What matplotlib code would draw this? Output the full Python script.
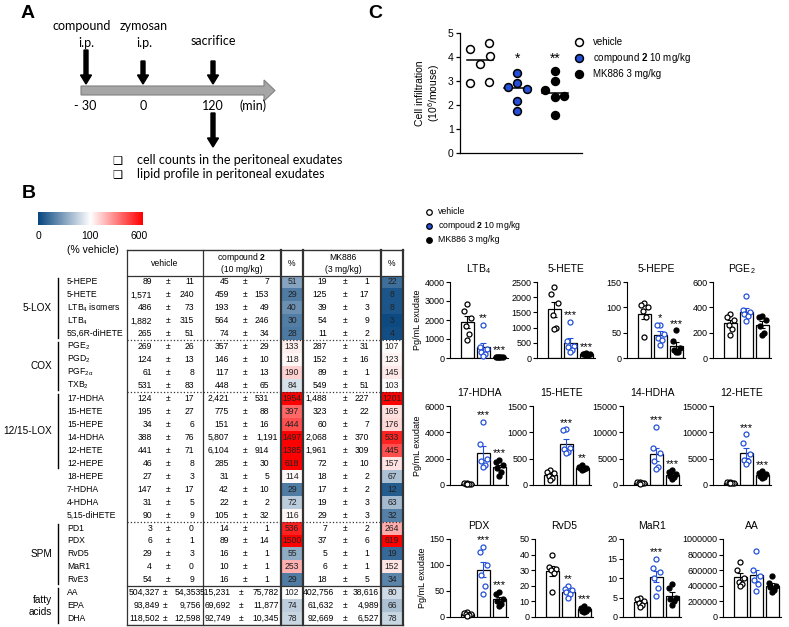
import numpy as np
import matplotlib.pyplot as plt
from matplotlib.patches import FancyArrow, Rectangle
from matplotlib.colors import LinearSegmentedColormap, TwoSlopeNorm
from matplotlib.ticker import FormatStrFormatter

plt.rcParams['font.family'] = ['Liberation Sans', 'DejaVu Sans']
plt.rcParams['mathtext.fontset'] = 'custom'
plt.rcParams['mathtext.rm'] = 'Liberation Sans'
plt.rcParams['mathtext.it'] = 'Liberation Sans:italic'
plt.rcParams['mathtext.bf'] = 'Liberation Sans:bold'
plt.rcParams['mathtext.default'] = 'rm'

W, H = 789, 627

# ---- B: lipid table
lipids = ['5-HEPE', '5-HETE', 'LTB$_4$ isomers', 'LTB$_4$', '5S,6R-diHETE',
          'PGE$_2$', 'PGD$_2$', 'PGF$_{2\\alpha}$', 'TXB$_2$',
          '17-HDHA', '15-HETE', '15-HEPE', '14-HDHA', '12-HETE', '12-HEPE',
          '18-HEPE', '7-HDHA', '4-HDHA', '5,15-diHETE',
          'PD1', 'PDX', 'RvD5', 'MaR1', 'RvE3',
          'AA', 'EPA', 'DHA']
veh_mean = [89, 1571, 486, 1882, 265, 269, 124, 61, 531, 124, 195, 34, 388, 441, 46,
            27, 147, 31, 90, 3, 6, 29, 4, 54, 504327, 93849, 118502]
veh_sem = [11, 240, 73, 315, 51, 26, 13, 8, 83, 17, 27, 6, 76, 71, 8,
           3, 17, 5, 9, 0, 1, 3, 0, 9, 54353, 9756, 12598]
cmp_mean = [45, 459, 193, 564, 74, 357, 146, 117, 448, 2421, 775, 151, 5807, 6104, 285,
            31, 42, 22, 105, 14, 89, 16, 10, 16, 515231, 69692, 92749]
cmp_sem = [7, 153, 49, 246, 34, 29, 10, 13, 65, 531, 88, 16, 1191, 914, 30,
           5, 10, 2, 32, 1, 14, 1, 1, 1, 75782, 11877, 10345]
cmp_pct = [51, 29, 40, 30, 28, 133, 118, 190, 84, 1954, 397, 444, 1497, 1385, 618,
           114, 29, 72, 116, 536, 1500, 55, 253, 29, 102, 74, 78]
mk_mean = [19, 125, 39, 54, 11, 287, 152, 89, 549, 1488, 323, 60, 2068, 1961, 72,
           18, 17, 19, 29, 7, 37, 5, 6, 18, 402756, 61632, 92669]
mk_sem = [1, 17, 3, 9, 2, 31, 16, 1, 51, 227, 22, 7, 370, 309, 10,
          2, 2, 3, 3, 2, 6, 1, 1, 5, 38616, 4989, 6527]
mk_pct = [22, 8, 8, 3, 4, 107, 123, 145, 103, 1201, 165, 176, 533, 445, 157,
          67, 12, 63, 32, 264, 619, 19, 152, 34, 80, 66, 78]
groups = ['5-LOX', 'COX', '12/15-LOX', '', 'SPM', 'fatty\nacids']
group_rows = [(0, 4), (5, 8), (9, 14), (15, 18), (19, 23), (24, 26)]

# ---- C: cell infiltration (10^6 / mouse)
cell_veh = [4.33, 4.57, 3.71, 4.04, 2.90, 2.97]
cell_cmp = [3.32, 2.93, 2.76, 2.68, 2.18, 1.75]
cell_mk = [3.42, 3.01, 2.63, 2.39, 2.32, 1.57]
cell_stars = ['', '*', '**']

# ---- D: individual lipids (pg/mL exudate): vehicle, compound 2, MK886
ltb4 = ([2850, 2500, 2100, 1700, 1250, 950], [1750, 600, 450, 300, 200, 100], [70, 60, 50, 50, 45, 40])
hete5 = ([2350, 2100, 1800, 1400, 1000, 950], [1200, 550, 400, 350, 250, 200], [150, 140, 130, 125, 110, 100])
hepe5 = ([108, 104, 100, 92, 80, 42], [65, 65, 47, 40, 35, 25], [55, 33, 20, 15, 12, 12])
pge2 = ([350, 320, 300, 260, 230, 180], [490, 380, 360, 350, 330, 290], [330, 325, 300, 250, 200, 180])
hdha17 = ([150, 120, 100, 100, 80, 100], [4800, 3100, 2000, 1800, 1500, 1400], [1900, 1750, 1500, 1300, 1000, 700])
hete15 = ([280, 250, 220, 180, 130, 100], [1060, 1040, 700, 680, 620, 600], [380, 350, 330, 320, 300, 290])
hdha14 = ([600, 500, 400, 350, 300, 250], [11000, 7000, 6000, 4500, 3500, 3000], [2800, 2400, 2100, 1800, 1500, 1200])
hete12 = ([650, 500, 450, 400, 350, 300], [9600, 8000, 5800, 4700, 4500, 4000], [2600, 2200, 2000, 1800, 1500, 1400])
pdx = ([10, 8, 6, 5, 3, 2], [135, 125, 100, 80, 60, 45], [48, 45, 35, 30, 25, 22])
rvd5 = ([40, 32, 31, 30, 28, 16], [20, 18, 17, 16, 15, 12], [7, 6, 5, 4, 4, 3])
mar1 = ([5, 4.5, 4, 3.5, 3, 2.5], [15, 12.5, 11.5, 10, 7.5, 5.5], [8.5, 7.5, 5, 4.5, 4, 3])
aa = ([700000, 600000, 500000, 450000, 420000, 400000], [850000, 600000, 530000, 480000, 420000, 330000],
      [520000, 440000, 400000, 380000, 350000, 320000])

d_titles = ['LTB$_4$', '5-HETE', '5-HEPE', 'PGE$_2$', '17-HDHA', '15-HETE', '14-HDHA', '12-HETE',
            'PDX', 'RvD5', 'MaR1', 'AA']
d_data = [ltb4, hete5, hepe5, pge2, hdha17, hete15, hdha14, hete12, pdx, rvd5, mar1, aa]
d_ymax = [4000, 2500, 150, 600, 6000, 1500, 15000, 15000, 150, 50, 20, 1000000]
d_ystep = [1000, 500, 50, 200, 2000, 500, 5000, 5000, 50, 10, 5, 200000]
d_stars = [['', '**', '***'], ['', '***', '***'], ['', '*', '***'], ['', '', ''],
           ['', '***', '***'], ['', '***', '**'], ['', '***', '***'], ['', '***', '***'],
           ['', '***', '***'], ['', '**', '***'], ['', '***', ''], ['', '', '']]

BLUE = '#2450d8'

fig = plt.figure(figsize=(W / 100, H / 100), dpi=100)
ov = fig.add_axes([0, 0, 1, 1], zorder=0)
ov.set_xlim(0, W)
ov.set_ylim(H, 0)
ov.axis('off')


def px_axes(x0, y0, x1, y1):
    a = fig.add_axes([x0 / W, 1 - y1 / H, (x1 - x0) / W, (y1 - y0) / H])
    a.patch.set_visible(False)
    return a


# panel letters
for lab, x, y in [('A', 21, 14), ('B', 22, 194), ('C', 368, 14)]:
    ov.text(x, y, lab, fontsize=14, fontweight='bold', ha='left', va='center')

# ---- A: timeline
fa = ['Lato', 'DejaVu Sans']
ov.add_patch(FancyArrow(81, 90.5, 194, 0, width=9, head_width=21, head_length=11,
                        length_includes_head=True, fc='#a6a6a6', ec='#808080', lw=0.8))
for x, y0 in [(86, 50), (143, 61), (213, 61)]:
    ov.add_patch(FancyArrow(x, y0, 0, 84 - y0, width=4, head_width=11, head_length=9,
                            length_includes_head=True, fc='black', ec='black'))
ov.add_patch(FancyArrow(213, 113, 0, 34, width=4, head_width=11, head_length=9,
                        length_includes_head=True, fc='black', ec='black'))
ov.text(82, 26, 'compound', family=fa, fontsize=9, ha='center', va='center')
ov.text(144, 26, 'zymosan', family=fa, fontsize=9, ha='center', va='center')
ov.text(86, 43, 'i.p.', family=fa, fontsize=9, ha='center', va='center')
ov.text(144, 43, 'i.p.', family=fa, fontsize=9, ha='center', va='center')
ov.text(213, 41, 'sacrifice', family=fa, fontsize=9, ha='center', va='center')
ov.text(85, 106, '- 30', family=fa, fontsize=9, ha='center', va='center')
ov.text(143, 106, '0', family=fa, fontsize=9, ha='center', va='center')
ov.text(213, 106, '120', family=fa, fontsize=9, ha='center', va='center')
ov.text(253, 106, '(min)', family=fa, fontsize=9, ha='center', va='center')
for y, txt in [(160, 'cell counts in the peritoneal exudates'),
               (174, 'lipid profile in peritoneal exudates')]:
    ov.text(117, y, '\u2751', family=['DejaVu Sans'], fontsize=8, ha='center', va='center')
    ov.text(137, y, txt, family=fa, fontsize=9, ha='left', va='center')

# ---- B: colour scale
cmap = LinearSegmentedColormap.from_list('pct', ['#08467f', '#ffffff', '#ff0000'])
norm = TwoSlopeNorm(vmin=0, vcenter=100, vmax=600)
cb = px_axes(38, 212, 143, 225)
grad = np.concatenate([np.linspace(0, 100, 128), np.linspace(100, 600, 128)])
cb.imshow(grad[None, :], cmap=cmap, norm=norm, aspect='auto')
cb.axis('off')
for x, t in [(39, '0'), (90, '100'), (139, '600')]:
    ov.text(x, 236, t, fontsize=7.5, ha='center', va='center')
ov.text(93, 250, '(% vehicle)', fontsize=7.5, ha='center', va='center')

# ---- B: table
top, y0, rh = 250, 275.5, 12.95
nrow = len(lipids)
bottom = y0 + rh * nrow
edges = [127, 203, 281, 303, 381, 403]
fs = 6.2


def fmt(v):
    return f'{v:,}'


for i in range(nrow):
    yc = y0 + rh * (i + 0.5)
    ov.add_patch(Rectangle((281, y0 + rh * i), 22, rh, fc=cmap(norm(min(cmp_pct[i], 600))), ec='none'))
    ov.add_patch(Rectangle((381, y0 + rh * i), 22, rh, fc=cmap(norm(min(mk_pct[i], 600))), ec='none'))
    ov.text(67, yc, lipids[i], fontsize=fs, ha='left', va='center')
    if veh_mean[i] >= 10000:
        cols = [(160, 165, 201, veh_mean, veh_sem), (231, 241, 279, cmp_mean, cmp_sem),
                (334, 345, 379, mk_mean, mk_sem)]
    else:
        cols = [(152, 168, 194, veh_mean, veh_sem), (229, 245, 269, cmp_mean, cmp_sem),
                (327, 345, 369, mk_mean, mk_sem)]
    for xm, xpm, xs, mean, sem in cols:
        if sem[i] >= 1000 and mean[i] < 10000:
            xs += 9
        ov.text(xm, yc, fmt(mean[i]), fontsize=fs, ha='right', va='center')
        ov.text(xpm, yc, '\u00b1', fontsize=fs, ha='center', va='center')
        ov.text(xs, yc, fmt(sem[i]), fontsize=fs, ha='right', va='center')
    ov.text(292, yc, str(cmp_pct[i]), fontsize=fs, ha='center', va='center', color='#222222')
    ov.text(392, yc, str(mk_pct[i]), fontsize=fs, ha='center', va='center', color='#222222')

# header
ov.text(165, 263, 'vehicle', fontsize=fs, ha='center', va='center')
ov.text(242, 257, 'compound $\\mathbf{2}$', fontsize=fs, ha='center', va='center')
ov.text(242, 269, '(10 mg/kg)', fontsize=fs, ha='center', va='center')
ov.text(292, 263, '%', fontsize=fs, ha='center', va='center')
ov.text(343, 257, 'MK886', fontsize=fs, ha='center', va='center')
ov.text(343, 269, '(3 mg/kg)', fontsize=fs, ha='center', va='center')
ov.text(392, 263, '%', fontsize=fs, ha='center', va='center')

# table lines
ov.plot([127, 403], [top, top], color='#333333', lw=1.0)
ov.plot([127, 403], [y0, y0], color='#333333', lw=0.9)
ov.plot([127, 403], [bottom, bottom], color='#333333', lw=1.0)
for x in edges:
    lw = 1.6 if x in (281, 303, 381, 403) else 0.9
    ov.plot([x, x], [top, bottom], color='#333333', lw=lw)

# group labels and separators
for g, (r0, r1) in zip(groups, group_rows):
    if r0 > 0 and g != '':
        ys = y0 + rh * r0
        ls = '-' if g.startswith('fatty') else ':'
        ov.plot([127, 403], [ys, ys], color='#333333', lw=0.9, ls=ls)
    if g == '':
        continue
    ya, yb = y0 + rh * r0 + 2, y0 + rh * (r1 + 1) - 2
    ov.plot([58, 58], [ya, yb], color='black', lw=1.0)
    ov.text(52, (ya + yb) / 2, g, fontsize=7.2, ha='right', va='center', linespacing=1.3)

# ---- C: cell infiltration
axc = px_axes(460, 33, 582, 153)
c_off = [[-0.27, 0.25, 0, 0.27, -0.27, 0.25], [0, 0, -0.25, 0.25, 0, 0], [0, 0, -0.27, 0.25, 0, 0]]
c_face = ['white', BLUE, 'black']
for k, vals in enumerate([cell_veh, cell_cmp, cell_mk]):
    axc.scatter(k + np.array(c_off[k]), vals, s=32, facecolor=c_face[k], edgecolor='black',
                linewidth=1.1, zorder=3, clip_on=False)
    med = np.median(vals)
    axc.plot([k - 0.35, k + 0.35], [med, med], color='black', lw=1.1, zorder=2)
    if cell_stars[k]:
        axc.text(k, 3.62, cell_stars[k], fontsize=10, ha='center', va='bottom')
axc.set_xlim(-0.53, 2.72)
axc.set_ylim(0, 5)
axc.set_yticks(range(6))
axc.set_xticks([])
for s in ['top', 'right']:
    axc.spines[s].set_visible(False)
axc.spines['left'].set_linewidth(0.9)
axc.spines['bottom'].set_linewidth(0.9)
axc.tick_params(axis='y', length=3, width=0.9, labelsize=7.5, pad=1.5)
axc.set_ylabel('Cell infiltration\n(10$^6$/mouse)', fontsize=7.5, labelpad=4, linespacing=1.1)

c_leg = ['vehicle', 'compound $\\mathbf{2}$ 10 mg/kg', 'MK886 3 mg/kg']
for k, (lab, yy) in enumerate(zip(c_leg, [42, 58, 74])):
    ov.scatter([579], [yy], s=32, facecolor=c_face[k], edgecolor='black', linewidth=1.1)
    ov.text(593, yy, lab, fontsize=7, ha='left', va='center')

# ---- D legend
d_leg = ['vehicle', 'compoud $\\mathbf{2}$ 10 mg/kg', 'MK886 3 mg/kg']
for k, (lab, yy) in enumerate(zip(d_leg, [212, 226, 240])):
    ov.scatter([429], [yy], s=16, facecolor=c_face[k], edgecolor='black', linewidth=0.9)
    ov.text(438, yy, lab, fontsize=6.3, ha='left', va='center')

# ---- D: bar charts
row_y = [(282, 358), (406, 485), (539, 617)]
col_x = [[450, 537, 627, 713], [450, 533, 623, 713], [450, 535, 623, 723]]
d_off = [0, -0.22, 0.22, -0.12, 0.12, 0]
edge_c = ['black', BLUE, 'black']
face_d = ['white', 'white', 'black']
for p in range(12):
    r, c = divmod(p, 4)
    x0 = col_x[r][c]
    ya, yb = row_y[r]
    ax = px_axes(x0, ya, x0 + 58, yb)
    ymax = d_ymax[p]
    for k, vals in enumerate(d_data[p]):
        vals = np.array(vals, dtype=float)
        m = vals.mean()
        se = vals.std(ddof=1) / np.sqrt(len(vals))
        ax.bar(k, m, width=0.8, color='white', edgecolor='black', linewidth=0.9, zorder=1)
        ax.errorbar(k, m, yerr=se, color=edge_c[k], capsize=2, elinewidth=0.8, capthick=0.8, zorder=2)
        ax.scatter(k + np.array(d_off[:len(vals)]), vals, s=13, facecolor=face_d[k],
                   edgecolor=edge_c[k], linewidth=0.9, zorder=3, clip_on=False)
        if d_stars[p][k]:
            ax.text(k, vals.max() + 0.02 * ymax, d_stars[p][k], fontsize=8, ha='center', va='bottom')
    ax.set_xlim(-1.1, 2.55)
    ax.set_ylim(0, ymax)
    ax.set_yticks(np.arange(0, ymax + 1, d_ystep[p]))
    ax.yaxis.set_major_formatter(FormatStrFormatter('%g' if ymax < 1e5 else '%d'))
    ax.set_xticks([])
    for s in ['top', 'right']:
        ax.spines[s].set_visible(False)
    ax.spines['left'].set_linewidth(0.8)
    ax.spines['bottom'].set_linewidth(0.8)
    ax.tick_params(axis='y', length=3, width=0.8, labelsize=6.5, pad=1)
    ax.set_title(d_titles[p], fontsize=7.5, pad=7)
    if c == 0:
        ax.set_ylabel('Pg/mL exudate', fontsize=6.5, labelpad=2)

fig.savefig('out.png', dpi=100)
